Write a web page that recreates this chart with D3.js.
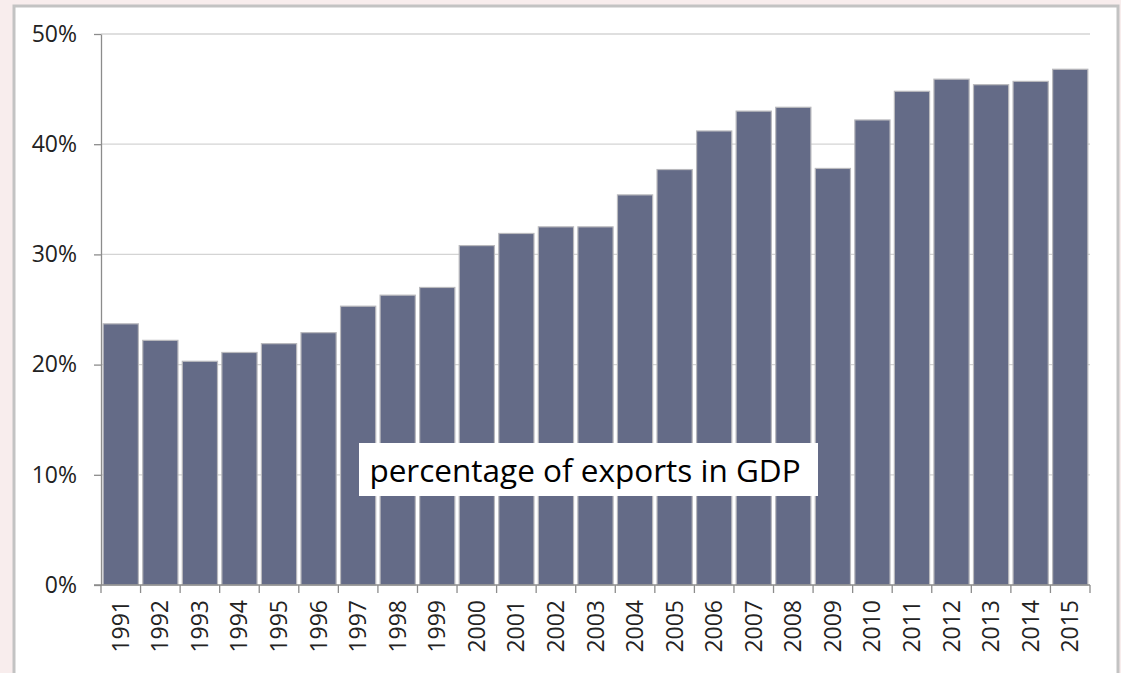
<!DOCTYPE html>
<html>
<head>
<meta charset="utf-8">
<script src="https://cdn.jsdelivr.net/npm/d3@7"></script>
<style>
  body { margin: 0; background: #f8eded; }
  svg { display: block; }
  .grid line { stroke: #d4d4d4; stroke-width: 1.3; }
  .axis text { font-family: "Open Sans", sans-serif; font-size: 23px; fill: #222; }
  .axis path, .axis line { stroke: #8c8c8c; stroke-width: 1.3; }
  .bar { fill: #646b87; stroke: #b9b9bd; stroke-width: 1.2; }
</style>
</head>
<body>
<svg id="chart" width="1121" height="673"></svg>
<script>
const years = ["1991","1992","1993","1994","1995","1996","1997","1998","1999","2000",
  "2001","2002","2003","2004","2005","2006","2007","2008","2009","2010",
  "2011","2012","2013","2014","2015"];
const exportShare = [23.7, 22.2, 20.3, 21.1, 21.9, 22.9, 25.3, 26.3, 27.0, 30.8,
  31.9, 32.5, 32.5, 35.4, 37.7, 41.2, 43.0, 43.35, 37.8, 42.2,
  44.8, 45.9, 45.4, 45.7, 46.8];
const yTicks = [0, 10, 20, 30, 40, 50];
const label = "percentage of exports in GDP";

const svg = d3.select("#chart");
const margin = { top: 34, right: 31, bottom: 88, left: 101 };
const width = +svg.attr("width");
const height = +svg.attr("height");
const plotW = width - margin.left - margin.right;
const plotH = height - margin.top - margin.bottom;

// white chart frame
svg.append("rect")
  .attr("x", 14).attr("y", 6)
  .attr("width", 1104).attr("height", 700)
  .attr("fill", "#fff")
  .attr("stroke", "#c3c3c3")
  .attr("stroke-width", 3);

const g = svg.append("g")
  .attr("transform", "translate(" + margin.left + "," + margin.top + ")");

const x = d3.scaleBand().domain(years).range([0, plotW]).paddingInner(0.11).paddingOuter(0.055);
const y = d3.scaleLinear().domain([0, 50]).range([plotH, 0]);

// gridlines
g.append("g")
  .attr("class", "grid")
  .selectAll("line")
  .data(yTicks.filter((d) => d > 0))
  .join("line")
  .attr("x1", 0).attr("x2", plotW)
  .attr("y1", (d) => y(d)).attr("y2", (d) => y(d));

g.selectAll("rect.bar")
  .data(years)
  .join("rect")
  .attr("class", "bar")
  .attr("x", (d) => x(d))
  .attr("width", x.bandwidth())
  .attr("y", (d, i) => y(exportShare[i]))
  .attr("height", (d, i) => plotH - y(exportShare[i]));

// y axis
const yAxis = g.append("g")
  .attr("class", "axis")
  .call(d3.axisLeft(y).tickValues(yTicks).tickFormat((d) => d + "%").tickSize(7).tickSizeOuter(0).tickPadding(17));

// x axis with ticks between bands
const xAxis = g.append("g")
  .attr("class", "axis")
  .attr("transform", "translate(0," + plotH + ")");
xAxis.append("line").attr("x1", -7).attr("x2", plotW);
xAxis.selectAll("line.tick")
  .data(d3.range(years.length + 1))
  .join("line")
  .attr("class", "tick")
  .attr("x1", (i) => i * plotW / years.length)
  .attr("x2", (i) => i * plotW / years.length)
  .attr("y1", 0).attr("y2", 8);
xAxis.selectAll("text")
  .data(years)
  .join("text")
  .attr("transform", (d) => "translate(" + (x(d) + x.bandwidth() / 2 + 8) + ",15) rotate(-90)")
  .attr("text-anchor", "end")
  .text((d) => d);

// label box
const lab = g.append("g").attr("transform", "translate(" + (588 - margin.left) + "," + (470 - margin.top) + ")");
lab.append("rect")
  .attr("x", -229).attr("y", -27)
  .attr("width", 459).attr("height", 53)
  .attr("fill", "#fff");
lab.append("text")
  .attr("text-anchor", "middle")
  .attr("x", -3)
  .attr("y", 12)
  .attr("font-family", "Open Sans, sans-serif")
  .attr("font-size", 31.5)
  .attr("fill", "#000")
  .text(label);
</script>
</body>
</html>
